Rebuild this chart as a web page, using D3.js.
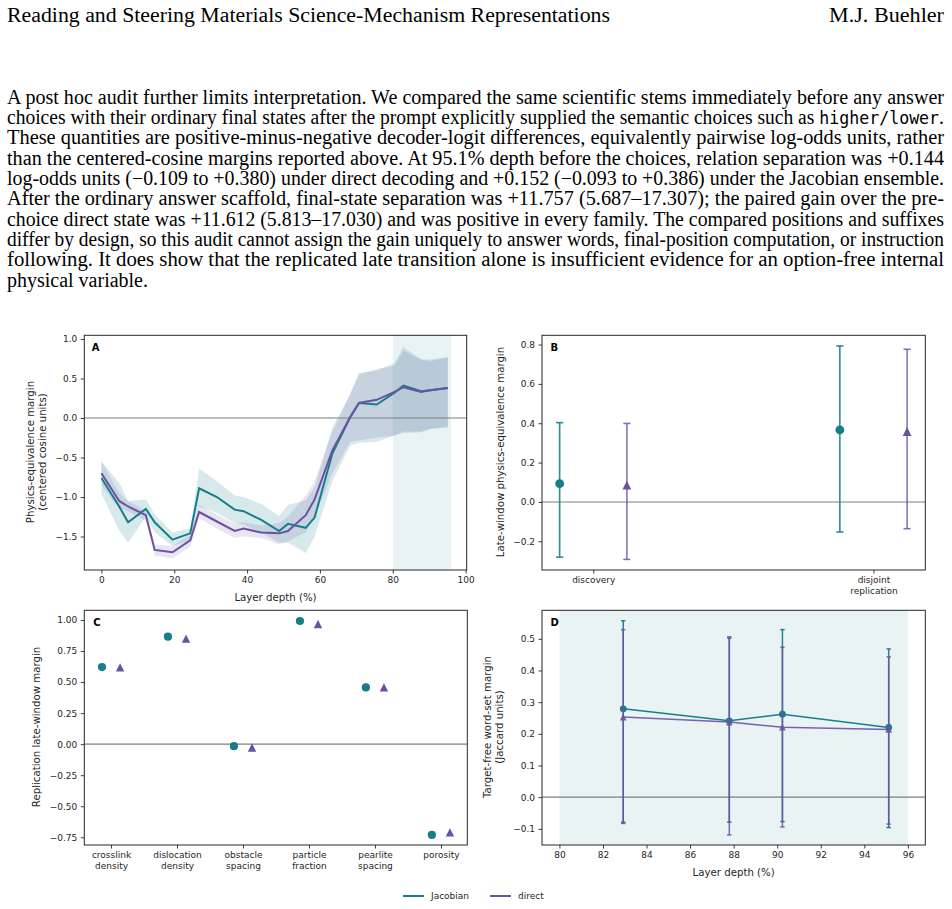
<!DOCTYPE html>
<html><head><meta charset="utf-8">
<script src="https://cdn.jsdelivr.net/npm/d3@7"></script>
<style>html,body{margin:0;padding:0;background:#fff;} svg{display:block}</style>
</head><body><svg id="c" width="952" height="909"></svg>
<script>
// ---------- text ----------
const headerLeft = "Reading and Steering Materials Science-Mechanism Representations";
const headerRight = "M.J. Buehler";
const paragraphLines = [
  "A post hoc audit further limits interpretation. We compared the same scientific stems immediately before any answer",
  "choices with their ordinary final states after the prompt explicitly supplied the semantic choices such as |higher/lower|.",
  "These quantities are positive-minus-negative decoder-logit differences, equivalently pairwise log-odds units, rather",
  "than the centered-cosine margins reported above. At 95.1% depth before the choices, relation separation was +0.144",
  "log-odds units (\u22120.109 to +0.380) under direct decoding and +0.152 (\u22120.093 to +0.386) under the Jacobian ensemble.",
  "After the ordinary answer scaffold, final-state separation was +11.757 (5.687\u201317.307); the paired gain over the pre-",
  "choice direct state was +11.612 (5.813\u201317.030) and was positive in every family. The compared positions and suffixes",
  "differ by design, so this audit cannot assign the gain uniquely to answer words, final-position computation, or instruction",
  "following. It does show that the replicated late transition alone is insufficient evidence for an option-free internal",
  "physical variable."
];

// ---------- data ----------
const seriesNames = ["Jacobian", "direct"];
// Panel A
const layerDepth = [0,4.88,7.32,12.20,14.63,19.51,24.39,26.83,31.71,36.59,39.02,43.90,48.78,51.22,56.10,58.54,63.41,68.29,70.73,75.61,80.49,82.93,87.80,90.24,95.12];
const jacobianA = [-0.76,-1.12,-1.32,-1.15,-1.32,-1.54,-1.46,-0.89,-1.00,-1.16,-1.18,-1.29,-1.43,-1.34,-1.39,-1.26,-0.45,0.01,0.19,0.17,0.32,0.41,0.34,0.35,0.38];
const jacobianALow = [-0.96,-1.42,-1.58,-1.25,-1.45,-1.62,-1.55,-1.12,-1.20,-1.33,-1.35,-1.45,-1.58,-1.58,-1.71,-1.50,-0.80,-0.35,-0.31,-0.30,-0.22,-0.19,-0.18,-0.14,-0.11];
const jacobianAHigh = [-0.55,-0.82,-1.05,-1.03,-1.22,-1.45,-1.40,-0.64,-0.80,-0.98,-1.00,-1.09,-1.24,-1.10,-1.04,-0.88,-0.12,0.30,0.57,0.60,0.70,0.90,0.74,0.74,0.77];
const directA = [-0.70,-1.05,-1.12,-1.23,-1.67,-1.70,-1.55,-1.19,-1.31,-1.43,-1.40,-1.45,-1.46,-1.43,-1.23,-1.03,-0.41,0.01,0.19,0.23,0.33,0.39,0.33,0.35,0.38];
const directALow = [-0.85,-1.15,-1.18,-1.30,-1.74,-1.78,-1.63,-1.27,-1.40,-1.52,-1.50,-1.52,-1.60,-1.56,-1.45,-1.25,-0.70,-0.30,-0.28,-0.25,-0.22,-0.17,-0.17,-0.14,-0.12];
const directAHigh = [-0.55,-0.95,-1.05,-1.18,-1.60,-1.62,-1.48,-1.10,-1.22,-1.34,-1.32,-1.36,-1.33,-1.25,-0.98,-0.80,-0.17,0.30,0.55,0.62,0.66,0.85,0.74,0.72,0.77];
const lateWindow = [80, 96];
const ticksA_x = [0,20,40,60,80,100];
const ticksA_y = [-1.5,-1.0,-0.5,0.0,0.5,1.0];

// Panel B
const splitsB = ["discovery", "disjoint\nreplication"];
const jacobianB = [0.093, 0.366];
const jacobianBLow = [-0.281, -0.153];
const jacobianBHigh = [0.403, 0.793];
const directB = [0.085, 0.358];
const directBLow = [-0.292, -0.136];
const directBHigh = [0.399, 0.776];
const ticksB_y = [-0.2,0.0,0.2,0.4,0.6,0.8];

// Panel C
const familiesC = ["crosslink\ndensity","dislocation\ndensity","obstacle\nspacing","particle\nfraction","pearlite\nspacing","porosity"];
const jacobianC = [0.621, 0.866, -0.016, 0.992, 0.457, -0.731];
const directC = [0.618, 0.850, -0.027, 0.968, 0.457, -0.710];
const ticksC_y = [-0.75,-0.50,-0.25,0.00,0.25,0.50,0.75,1.00];

// Panel D
const depthD = [82.93, 87.80, 90.24, 95.12];
const jacobianD = [0.279, 0.241, 0.262, 0.220];
const jacobianDLow = [-0.079, -0.079, -0.077, -0.096];
const jacobianDHigh = [0.557, 0.506, 0.529, 0.468];
const directD = [0.253, 0.237, 0.221, 0.214];
const directDLow = [-0.083, -0.119, -0.094, -0.085];
const directDHigh = [0.529, 0.502, 0.473, 0.443];
const ticksD_x = [80,82,84,86,88,90,92,94,96];
const ticksD_y = [-0.1,0.0,0.1,0.2,0.3,0.4,0.5];

// ---------- style ----------
const TEAL = "#177e89", PURPLE = "#6a51a3";
const SANS = "DejaVu Sans, sans-serif";
const SERIF = "Liberation Serif, Times New Roman, serif";
const TICKFS = 9, LABFS = 10.2;

const svg = d3.select("#c");
svg.append("rect").attr("width",952).attr("height",909).attr("fill","#fff");

// header + paragraph
svg.append("text").attr("x",7).attr("y",22).attr("font-family",SERIF).attr("font-size",20.5)
  .attr("textLength",603).attr("lengthAdjust","spacingAndGlyphs").attr("fill","#000").text(headerLeft);
svg.append("text").attr("x",829).attr("y",22).attr("font-family",SERIF).attr("font-size",20.5)
  .attr("textLength",115).attr("lengthAdjust","spacingAndGlyphs").attr("fill","#000").text(headerRight);

paragraphLines.forEach((ln,i)=>{
  const t = svg.append("text").attr("x",7).attr("y",103.5 + i*20.35)
    .attr("font-family",SERIF).attr("font-size",20).attr("fill","#000");
  if (i < paragraphLines.length-1) t.attr("textLength",937).attr("lengthAdjust","spacingAndGlyphs");
  else t.attr("textLength",141).attr("lengthAdjust","spacingAndGlyphs");
  ln.split("|").forEach((part,j)=>{
    const ts = t.append("tspan").text(part);
    if (j%2===1) ts.attr("font-family","DejaVu Sans Mono, monospace").attr("font-size",17);
  });
});

// ---------- panel helper ----------
function panel(x0,x1,y0,y1,xd,yd){
  const g = svg.append("g");
  const x = d3.scaleLinear().domain(xd).range([x0,x1]);
  const y = d3.scaleLinear().domain(yd).range([y1,y0]);
  const clipId = "clip"+Math.round(x0)+"_"+Math.round(y0);
  svg.append("clipPath").attr("id",clipId).append("rect").attr("x",x0).attr("y",y0).attr("width",x1-x0).attr("height",y1-y0);
  const plot = g.append("g").attr("clip-path",`url(#${clipId})`);
  return {g,plot,x,y,x0,x1,y0,y1};
}
function frame(p){
  p.g.append("rect").attr("x",p.x0).attr("y",p.y0).attr("width",p.x1-p.x0).attr("height",p.y1-p.y0)
    .attr("fill","none").attr("stroke","#262626").attr("stroke-width",1);
}
function styleAxis(sel){
  sel.select(".domain").remove();
  sel.selectAll(".tick line").attr("stroke","#262626").attr("stroke-width",0.9);
  sel.selectAll(".tick text").attr("font-family",SANS).attr("font-size",TICKFS).attr("fill","#262626");
}
function yAxis(p,ticks,fmt){
  const a = p.g.append("g").attr("transform",`translate(${p.x0},0)`)
    .call(d3.axisLeft(p.y).tickValues(ticks).tickFormat(fmt).tickSize(3.5).tickPadding(3.5));
  styleAxis(a); return a;
}
function xAxis(p,ticks,fmt){
  const a = p.g.append("g").attr("transform",`translate(0,${p.y1})`)
    .call(d3.axisBottom(p.x).tickValues(ticks).tickFormat(fmt).tickSize(3.5).tickPadding(3.5));
  styleAxis(a); return a;
}
function zeroLine(p){
  p.plot.append("line").attr("x1",p.x0).attr("x2",p.x1).attr("y1",p.y(0)).attr("y2",p.y(0))
    .attr("stroke","#7f7f7f").attr("stroke-width",1.1);
}
function panelLabel(p,txt,dx){
  p.g.append("text").attr("x",p.x0+dx).attr("y",p.y0+15.5).attr("font-family",SANS).attr("font-weight","bold")
    .attr("font-size",10).attr("fill","#000").text(txt);
}
function yLabel(lines,cx,cy){
  const t = svg.append("text").attr("transform",`translate(${cx},${cy}) rotate(-90)`)
    .attr("text-anchor","middle").attr("font-family",SANS).attr("font-size",LABFS).attr("fill","#262626");
  lines.forEach((l,i)=>t.append("tspan").attr("x",0).attr("dy", i===0 ? (-(lines.length-1)*6+3.6) : 12).text(l));
}
function xLabel(txt,cx,cy){
  svg.append("text").attr("x",cx).attr("y",cy+3.6).attr("text-anchor","middle").attr("font-family",SANS)
    .attr("font-size",LABFS).attr("fill","#262626").text(txt);
}
function multiline(axisSel){
  axisSel.selectAll(".tick text").each(function(d,i){
    const el = d3.select(this); const s = el.text(); const parts = s.split("\n");
    el.text(null);
    parts.forEach((pt,k)=>el.append("tspan").attr("x",0).attr("dy", k===0 ? "0.71em" : "1.22em").text(pt));
  });
}
function tri(cx,cy,r){ return `M${cx},${cy-r}L${cx+r},${cy+r}L${cx-r},${cy+r}Z`; }
function errbar(g,x,lo,hi,color,cap,w,op){
  g.append("line").attr("x1",x).attr("x2",x).attr("y1",lo).attr("y2",hi).attr("stroke",color).attr("stroke-width",w).attr("stroke-opacity",op);
  [lo,hi].forEach(yy=>g.append("line").attr("x1",x-cap).attr("x2",x+cap).attr("y1",yy).attr("y2",yy)
    .attr("stroke",color).attr("stroke-width",w).attr("stroke-opacity",op));
}

// ---------- Panel A ----------
{
  const p = panel(84.3,466.7,335.3,570,[-4.7,100.3],[-1.924,1.047]);
  p.plot.append("rect").attr("x",p.x(lateWindow[0])).attr("y",p.y0).attr("width",p.x(lateWindow[1])-p.x(lateWindow[0]))
    .attr("height",p.y1-p.y0).attr("fill",TEAL).attr("fill-opacity",0.09);
  const area = (lo,hi)=>d3.area().x((d,i)=>p.x(layerDepth[i])).y0((d,i)=>p.y(lo[i])).y1((d,i)=>p.y(hi[i]));
  p.plot.append("path").datum(layerDepth).attr("d",area(jacobianALow,jacobianAHigh)).attr("fill",TEAL).attr("fill-opacity",0.17);
  p.plot.append("path").datum(layerDepth).attr("d",area(directALow,directAHigh)).attr("fill",PURPLE).attr("fill-opacity",0.15);
  zeroLine(p);
  const line = vals=>d3.line().x((d,i)=>p.x(layerDepth[i])).y((d,i)=>p.y(vals[i]));
  p.plot.append("path").datum(layerDepth).attr("d",line(jacobianA)).attr("fill","none").attr("stroke",TEAL).attr("stroke-width",2);
  p.plot.append("path").datum(layerDepth).attr("d",line(directA)).attr("fill","none").attr("stroke",PURPLE).attr("stroke-width",2);
  frame(p);
  yAxis(p,ticksA_y,d3.format(".1f"));
  xAxis(p,ticksA_x,d3.format("d"));
  panelLabel(p,"A",7.5);
  yLabel(["Physics-equivalence margin","(centered cosine units)"],36,452);
  xLabel("Layer depth (%)",(p.x0+p.x1)/2,597);
}

// ---------- Panel B ----------
{
  const p = panel(542,925.3,335.3,570,[-0.183,1.185],[-0.346,0.847]);
  zeroLine(p);
  const off = 0.12;
  splitsB.forEach((s,i)=>{
    const xt = p.x(i-off), xd = p.x(i+off);
    errbar(p.g,xt,p.y(jacobianBLow[i]),p.y(jacobianBHigh[i]),TEAL,3.6,1.6,0.9);
    errbar(p.g,xd,p.y(directBLow[i]),p.y(directBHigh[i]),PURPLE,3.6,1.6,0.8);
    p.g.append("circle").attr("cx",xt).attr("cy",p.y(jacobianB[i])).attr("r",4.4).attr("fill",TEAL);
    p.g.append("path").attr("d",tri(xd,p.y(directB[i]),4.4)).attr("fill",PURPLE);
  });
  frame(p);
  yAxis(p,ticksB_y,d3.format(".1f"));
  const ax = xAxis(p,[0,1],(d)=>splitsB[d]);
  multiline(ax);
  panelLabel(p,"B",8.5);
  yLabel(["Late-window physics-equivalence margin"],500,452);
}

// ---------- Panel C ----------
{
  const p = panel(84.3,467.3,610.3,845,[-0.405,5.4],[-0.812,1.078]);
  zeroLine(p);
  const off = 0.137;
  familiesC.forEach((f,i)=>{
    p.g.append("circle").attr("cx",p.x(i-off)).attr("cy",p.y(jacobianC[i])).attr("r",4.1).attr("fill",TEAL);
    p.g.append("path").attr("d",tri(p.x(i+off),p.y(directC[i]),4.2)).attr("fill",PURPLE);
  });
  frame(p);
  yAxis(p,ticksC_y,d3.format(".2f"));
  const ax = xAxis(p,d3.range(familiesC.length),(d)=>familiesC[d]);
  multiline(ax);
  panelLabel(p,"C",9);
  yLabel(["Replication late-window margin"],36,727);
}

// ---------- Panel D ----------
{
  const p = panel(542,925.3,610.3,845,[79.2,96.8],[-0.151,0.590]);
  p.plot.append("rect").attr("x",p.x(lateWindow[0])).attr("y",p.y0).attr("width",p.x(lateWindow[1])-p.x(lateWindow[0]))
    .attr("height",p.y1-p.y0).attr("fill",TEAL).attr("fill-opacity",0.09);
  zeroLine(p);
  const line = vals=>d3.line().x((d,i)=>p.x(depthD[i])).y((d,i)=>p.y(vals[i]));
  depthD.forEach((d,i)=>errbar(p.g,p.x(d),p.y(jacobianDLow[i]),p.y(jacobianDHigh[i]),TEAL,2.2,1.5,0.95));
  p.g.append("path").datum(depthD).attr("d",line(jacobianD)).attr("fill","none").attr("stroke",TEAL).attr("stroke-width",1.5);
  depthD.forEach((d,i)=>p.g.append("circle").attr("cx",p.x(d)).attr("cy",p.y(jacobianD[i])).attr("r",3.4).attr("fill",TEAL));
  depthD.forEach((d,i)=>errbar(p.g,p.x(d),p.y(directDLow[i]),p.y(directDHigh[i]),PURPLE,2.2,1.5,0.85));
  p.g.append("path").datum(depthD).attr("d",line(directD)).attr("fill","none").attr("stroke",PURPLE).attr("stroke-width",1.5).attr("stroke-opacity",0.9);
  depthD.forEach((d,i)=>p.g.append("path").attr("d",tri(p.x(d),p.y(directD[i]),3.4)).attr("fill",PURPLE).attr("fill-opacity",0.9));
  frame(p);
  yAxis(p,ticksD_y,d3.format(".1f"));
  xAxis(p,ticksD_x,d3.format("d"));
  panelLabel(p,"D",8.5);
  yLabel(["Target-free word-set margin","(Jaccard units)"],493,727);
  xLabel("Layer depth (%)",(p.x0+p.x1)/2,872.5);
}

// ---------- legend ----------
{
  const items = [{name:seriesNames[0],color:TEAL,x:403},{name:seriesNames[1],color:PURPLE,x:490}];
  items.forEach(it=>{
    svg.append("line").attr("x1",it.x).attr("x2",it.x+21).attr("y1",896).attr("y2",896).attr("stroke",it.color).attr("stroke-width",2);
    svg.append("text").attr("x",it.x+28).attr("y",899.3).attr("font-family",SANS).attr("font-size",TICKFS).attr("fill","#262626").text(it.name);
  });
}
</script></body></html>
